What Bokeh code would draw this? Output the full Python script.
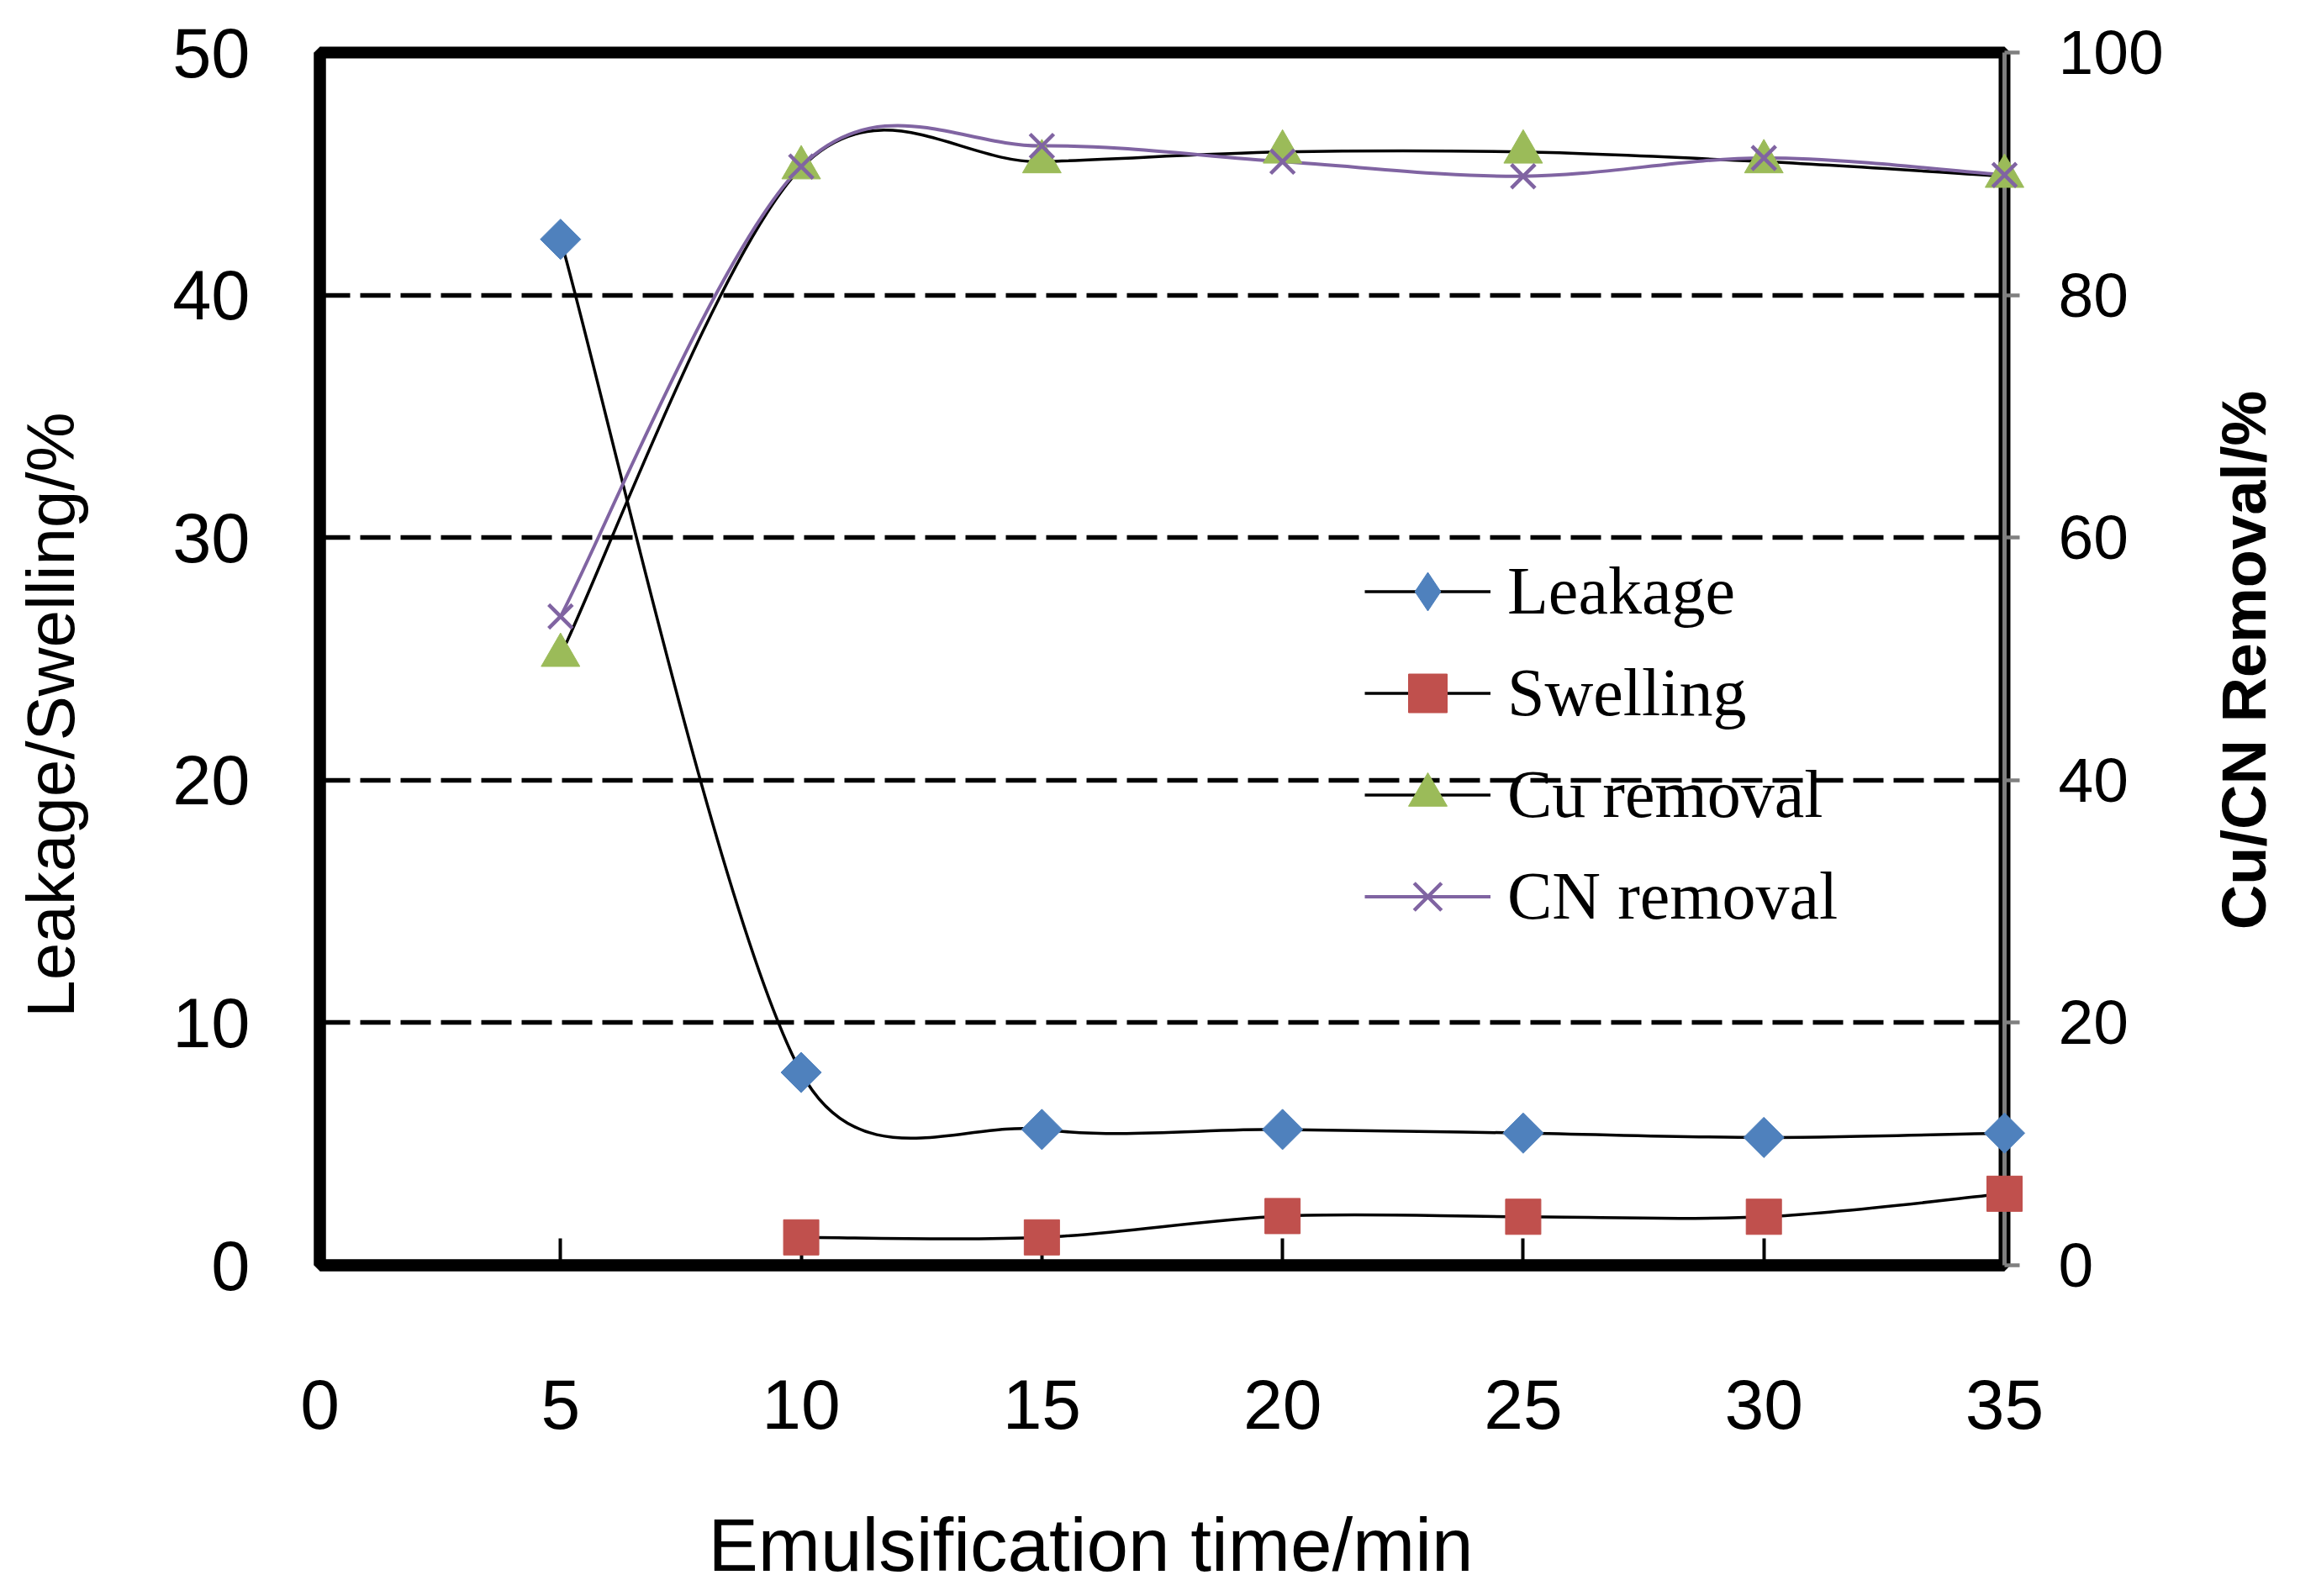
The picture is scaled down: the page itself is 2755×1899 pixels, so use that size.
import math
from bokeh.plotting import figure
from bokeh.models import (Range1d, LinearAxis, FixedTicker, Legend, LegendItem,
                          ColumnDataSource)
from bokeh.core.properties import value
from bokeh.embed import file_html
from bokeh.resources import INLINE

# ---------------- data ----------------
time = [5, 10, 15, 20, 25, 30, 35]
leakage = [42.3, 7.95, 5.6, 5.6, 5.45, 5.27, 5.45]
swelling_time = [10, 15, 20, 25, 30, 35]
swelling = [1.15, 1.15, 2.03, 2.0, 2.0, 2.95]
cu_removal = [50.3, 90.5, 91.0, 91.8, 91.8, 91.0, 89.8]
cn_removal = [53.5, 90.6, 92.3, 91.0, 89.8, 91.3, 89.9]

x_ticks = [0, 5, 10, 15, 20, 25, 30, 35]
left_ticks = [0, 10, 20, 30, 40, 50]
right_ticks = [0, 20, 40, 60, 80, 100]

series_names = ["Leakage", "Swelling", "Cu removal", "CN removal"]
marker_colors = ["#4F81BD", "#C0504D", "#9BBB59", "#8064A2"]
line_colors = ["black", "black", "black", "#8064A2"]

x_title = "Emulsification time/min"
left_title = "Leakage/Swelling/%"
right_title = "Cu/CN Removal/%"

X_MIN, X_MAX = 0, 35
YL_MIN, YL_MAX = 0, 50
YR_MIN, YR_MAX = 0, 100

# ---------------- layout ----------------
W, H = 2739, 1899
B_LEFT, B_RIGHT, B_TOP, B_BOTTOM = 380, 355, 62, 394
FRAME_W = W - B_LEFT - B_RIGHT
FRAME_H = H - B_TOP - B_BOTTOM


def smooth_source(xs, ys, x_span, y_span):
    """Excel-style smoothed line: cubic Bezier segments whose control points
    are derived from the neighbouring data points (limited in screen space)."""
    sx = FRAME_W / x_span
    sy = FRAME_H / y_span
    P = [(x * sx, y * sy) for x, y in zip(xs, ys)]
    n = len(P)
    d = {k: [] for k in ("x0", "y0", "x1", "y1", "cx0", "cy0", "cx1", "cy1")}

    def dist(a, b):
        return math.hypot(a[0] - b[0], a[1] - b[1])

    for i in range(n - 1):
        p0 = P[max(i - 1, 0)]
        p1 = P[i]
        p2 = P[i + 1]
        p3 = P[min(i + 2, n - 1)]
        d12 = dist(p1, p2)
        d02 = dist(p0, p2)
        d13 = dist(p1, p3)
        f1 = 1.0 / 6.0
        f2 = 1.0 / 6.0
        if d02 / 6.0 > d12 / 2.0:
            f1 = d12 / (2.0 * d02)
        if d13 / 6.0 > d12 / 2.0:
            f2 = d12 / (2.0 * d13)
        c1 = (p1[0] + f1 * (p2[0] - p0[0]), p1[1] + f1 * (p2[1] - p0[1]))
        c2 = (p2[0] - f2 * (p3[0] - p1[0]), p2[1] - f2 * (p3[1] - p1[1]))
        d["x0"].append(xs[i]); d["y0"].append(ys[i])
        d["x1"].append(xs[i + 1]); d["y1"].append(ys[i + 1])
        d["cx0"].append(c1[0] / sx); d["cy0"].append(c1[1] / sy)
        d["cx1"].append(c2[0] / sx); d["cy1"].append(c2[1] / sy)
    return ColumnDataSource(d)


p = figure(width=W, height=H, output_backend="svg", toolbar_location=None,
           x_range=Range1d(X_MIN, X_MAX), y_range=Range1d(YL_MIN, YL_MAX),
           min_border_left=B_LEFT, min_border_right=B_RIGHT,
           min_border_top=B_TOP, min_border_bottom=B_BOTTOM)
p.extra_y_ranges = {"right": Range1d(YR_MIN, YR_MAX)}
p.background_fill_color = "white"
p.border_fill_color = "white"
p.outline_line_color = "black"
p.outline_line_width = 14

# grid
p.xgrid.visible = False
p.ygrid.ticker = FixedTicker(ticks=left_ticks)
p.ygrid.grid_line_color = "black"
p.ygrid.grid_line_width = 5.5
p.ygrid.grid_line_dash = "36 12"

FONT = "Liberation Sans"

# bottom axis
xa = p.xaxis[0]
xa.ticker = FixedTicker(ticks=x_ticks)
xa.axis_line_color = "black"
xa.axis_line_width = 14
xa.major_tick_in = 32
xa.major_tick_out = 0
xa.major_tick_line_width = 4
xa.major_tick_line_color = "black"
xa.minor_tick_line_color = None
xa.major_label_text_font = FONT
xa.major_label_text_font_size = "84px"
xa.major_label_text_color = "black"
xa.major_label_standoff = 136

# left axis
ya = p.yaxis[0]
ya.ticker = FixedTicker(ticks=left_ticks)
ya.axis_line_color = "black"
ya.axis_line_width = 14
ya.major_tick_in = 0
ya.major_tick_out = 0
ya.minor_tick_line_color = None
ya.major_label_text_font = FONT
ya.major_label_text_font_size = "83px"
ya.major_label_text_color = "black"
ya.major_label_standoff = 83

# right axis
ra = LinearAxis(y_range_name="right", ticker=FixedTicker(ticks=right_ticks))
ra.axis_line_color = "#808080"
ra.axis_line_width = 5
ra.major_tick_in = 0
ra.major_tick_out = 18
ra.major_tick_line_color = "#808080"
ra.major_tick_line_width = 4.5
ra.minor_tick_line_color = None
ra.major_label_text_font = FONT
ra.major_label_text_font_size = "75px"
ra.major_label_text_color = "black"
ra.major_label_standoff = 46
p.add_layout(ra, "right")

# axis titles: text anchored at the frame's lower-left corner (range starts)
# and floated outwards with pixel offsets (not clipped: overlay level)
p.text(x=[X_MIN], y=[YL_MIN], text=[x_title], x_offset=917, y_offset=332,
       text_align="center", text_baseline="middle",
       text_font=value(FONT), text_font_size="89px", text_color="black",
       level="overlay")
p.text(x=[X_MIN], y=[YL_MIN], text=[left_title], x_offset=-320, y_offset=-655,
       angle=math.pi / 2, text_align="center", text_baseline="middle",
       text_font=value(FONT), text_font_size="80px", text_color="black",
       level="overlay")
p.text(x=[X_MIN], y=[YL_MIN], text=[right_title], x_offset=2289, y_offset=-720,
       angle=math.pi / 2, text_align="center", text_baseline="middle",
       text_font=value(FONT), text_font_size="74px", text_font_style="bold",
       text_color="black", level="overlay")

# ---------------- series ----------------
LW = 3.5
bez = dict(x0="x0", y0="y0", x1="x1", y1="y1",
           cx0="cx0", cy0="cy0", cx1="cx1", cy1="cy1")
XS = X_MAX - X_MIN
YLS = YL_MAX - YL_MIN
YRS = YR_MAX - YR_MIN

# Leakage
l_leak = p.bezier(source=smooth_source(time, leakage, XS, YLS),
                  line_color=line_colors[0], line_width=LW, **bez)
m_leak = p.scatter(time, leakage, marker="square", size=34, angle=math.pi / 4,
                   fill_color=marker_colors[0], line_color=marker_colors[0],
                   level="overlay")
# legend-only swatch (the legend does not rotate markers)
k_leak = p.scatter([float("nan")], [float("nan")], marker="diamond", size=46,
                   fill_color=marker_colors[0], line_color=marker_colors[0])

# Swelling
l_sw = p.bezier(source=smooth_source(swelling_time, swelling, XS, YLS),
                line_color=line_colors[1], line_width=LW, **bez)
m_sw = p.scatter(swelling_time, swelling, marker="square", size=42,
                 fill_color=marker_colors[1], line_color=marker_colors[1],
                 level="overlay")

# Cu removal (right axis)
l_cu = p.bezier(source=smooth_source(time, cu_removal, XS, YRS),
                line_color=line_colors[2], line_width=LW,
                y_range_name="right", **bez)
m_cu = p.scatter(time, cu_removal, marker="triangle", size=46,
                 fill_color=marker_colors[2], line_color=marker_colors[2],
                 y_range_name="right", level="overlay")

# CN removal (right axis)
l_cn = p.bezier(source=smooth_source(time, cn_removal, XS, YRS),
                line_color=line_colors[3], line_width=4,
                y_range_name="right", **bez)
m_cn = p.scatter(time, cn_removal, marker="x", size=40, line_width=4.5,
                 line_color=marker_colors[3], y_range_name="right",
                 level="overlay")

legend = Legend(items=[
    LegendItem(label=series_names[0], renderers=[l_leak, k_leak]),
    LegendItem(label=series_names[1], renderers=[l_sw, m_sw]),
    LegendItem(label=series_names[2], renderers=[l_cu, m_cu]),
    LegendItem(label=series_names[3], renderers=[l_cn, m_cn]),
], location=(1243, 381))
legend.border_line_color = None
legend.background_fill_alpha = 0
legend.padding = 0
legend.margin = 0
legend.spacing = 6
legend.glyph_width = 150
legend.glyph_height = 115
legend.label_standoff = 20
legend.label_text_font = "Liberation Serif"
legend.label_text_font_size = "80px"
legend.label_text_color = "black"
p.add_layout(legend)

open("out.html", "w").write(file_html(p, INLINE))
